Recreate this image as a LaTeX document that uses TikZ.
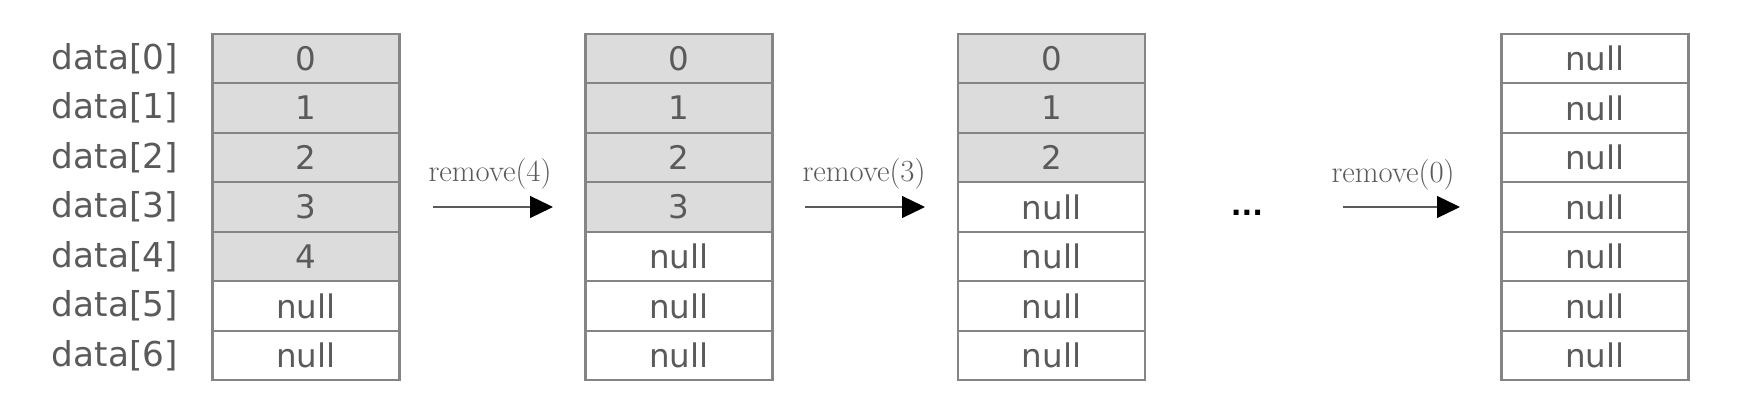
\documentclass[tikz,border=0pt]{standalone}
\usepackage{fontspec}
\usepackage{xcolor}
\usepackage{tikz}
\usetikzlibrary{arrows.meta}
\newfontfamily\dejavu{DejaVu Sans}
\definecolor{cellgray}{HTML}{DCDCDC}
\definecolor{linegray}{HTML}{858585}
\definecolor{textgray}{HTML}{5A5A5A}

\begin{document}
\begin{tikzpicture}[x=0.02cm,y=-0.02cm,
  full/.style={draw=linegray,line width=1.2pt,fill=cellgray,minimum width=3.74cm,minimum height=0.99cm,inner sep=0pt,text=textgray,font=\dejavu\fontsize{18.5pt}{22pt}\selectfont},
  empty/.style={full,fill=white},
  idx/.style={anchor=east,inner sep=0pt,text=textgray,font=\dejavu\fontsize{19.5pt}{22pt}\selectfont},
  op/.style={inner sep=0pt,text=textgray,font=\fontsize{17.5pt}{20pt}\selectfont},
  link/.style={draw=textgray,line width=0.7pt,-{Triangle[length=0.46cm,width=0.44cm,color=black]}}]
\useasboundingbox (0,0) rectangle (1764,408);
% index labels
\node[idx] (l0) at (178,58.5) {data[0]}; \node[idx] (l1) at (178,108) {data[1]}; \node[idx] (l2) at (178,157.5) {data[2]};
\node[idx] (l3) at (178,207) {data[3]}; \node[idx] (l4) at (178,256.5) {data[4]}; \node[idx] (l5) at (178,306) {data[5]};
\node[idx] (l6) at (178,355.5) {data[6]};
% array before removing
\node[full] (a0) at (306,58.5) {0}; \node[full] (a1) at (306,108) {1}; \node[full] (a2) at (306,157.5) {2};
\node[full] (a3) at (306,207) {3}; \node[full] (a4) at (306,256.5) {4}; \node[empty] (a5) at (306,306) {null};
\node[empty] (a6) at (306,355.5) {null};
% after remove(4)
\node[full] (b0) at (679,58.5) {0}; \node[full] (b1) at (679,108) {1}; \node[full] (b2) at (679,157.5) {2};
\node[full] (b3) at (679,207) {3}; \node[empty] (b4) at (679,256.5) {null}; \node[empty] (b5) at (679,306) {null};
\node[empty] (b6) at (679,355.5) {null};
% after remove(3)
\node[full] (c0) at (1051.5,58.5) {0}; \node[full] (c1) at (1051.5,108) {1}; \node[full] (c2) at (1051.5,157.5) {2};
\node[empty] (c3) at (1051.5,207) {null}; \node[empty] (c4) at (1051.5,256.5) {null}; \node[empty] (c5) at (1051.5,306) {null};
\node[empty] (c6) at (1051.5,355.5) {null};
% after remove(0)
\node[empty] (d0) at (1595,58.5) {null}; \node[empty] (d1) at (1595,108) {null}; \node[empty] (d2) at (1595,157.5) {null};
\node[empty] (d3) at (1595,207) {null}; \node[empty] (d4) at (1595,256.5) {null}; \node[empty] (d5) at (1595,306) {null};
\node[empty] (d6) at (1595,355.5) {null};
% operations
\node[op] (t1) at (490,174) {remove(4)}; \node[op] (t2) at (864,174) {remove(3)}; \node[op] (t3) at (1393,175) {remove(0)};
\coordinate (s1) at (433,207); \coordinate (e1) at (553,207);
\coordinate (s2) at (805,207); \coordinate (e2) at (925,207);
\coordinate (s3) at (1343,207); \coordinate (e3) at (1460,207);
\draw[link] (s1) -- (e1); \draw[link] (s2) -- (e2); \draw[link] (s3) -- (e3);
\node[text=black,inner sep=0pt,font=\dejavu\bfseries\fontsize{16pt}{18pt}\selectfont] (dots) at (1247,213) {...};
\end{tikzpicture}
\end{document}
